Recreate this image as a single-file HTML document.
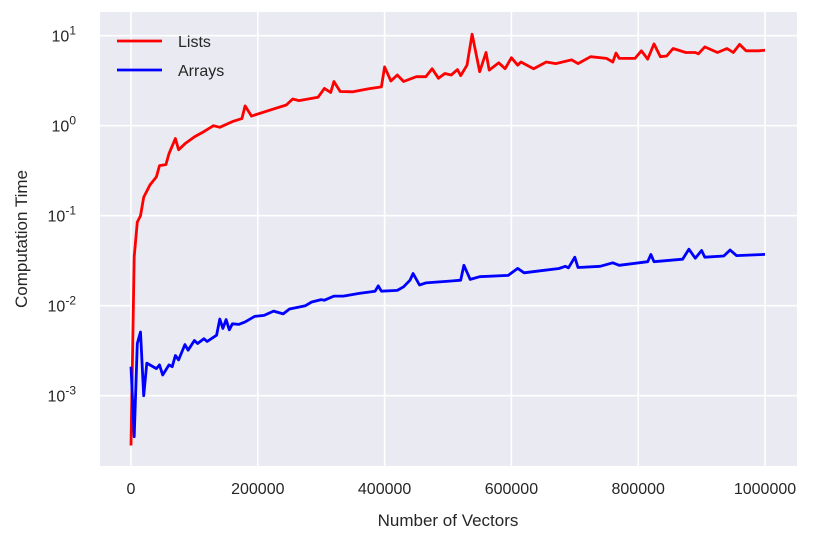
<!DOCTYPE html>
<html><head><meta charset="utf-8"><style>
html,body{margin:0;padding:0;background:#fff;}
svg{display:block;font-family:"Liberation Sans","DejaVu Sans",sans-serif;}
</style></head><body>
<svg id="chart" width="821" height="544" viewBox="0 0 821 544">
<rect x="100" y="12" width="697" height="454" fill="#EAEAF2"/>
<g id="grid"></g>
<g id="series"></g>
<g id="ticks"></g>
<text x="448" y="526" font-size="17" fill="#262626" text-anchor="middle">Number of Vectors</text>
<text transform="translate(27,239) rotate(-90)" font-size="17" fill="#262626" text-anchor="middle">Computation Time</text>
<g>
<g><line x1="117" y1="41" x2="162" y2="41" stroke="#ff0000" stroke-width="2.8"/><text x="178" y="47" font-size="16" fill="#262626">Lists</text></g>
<g><line x1="117" y1="70" x2="162" y2="70" stroke="#0000ff" stroke-width="2.8"/><text x="178" y="76" font-size="16" fill="#262626">Arrays</text></g>
</g>
</svg>
<script>
const listsX = [0,5,10,15,20,30,40,45,55,60,70,75,85,100,115,130,140,160,175,180,190,220,245,255,265,295,305,315,320,330,350,375,395,400,410,420,430,450,465,475,485,495,505,515,520,530,538,550,560,565,580,590,600,610,615,635,655,670,695,705,725,750,760,765,770,795,805,815,825,835,845,855,875,890,895,905,925,940,950,960,970,990,1000];
const listsY = [0.00028,0.035,0.085,0.1,0.16,0.22,0.27,0.36,0.37,0.49,0.72,0.54,0.63,0.75,0.86,1.0,0.96,1.11,1.2,1.66,1.28,1.5,1.7,1.98,1.9,2.07,2.6,2.34,3.1,2.4,2.38,2.57,2.7,4.5,3.14,3.66,3.1,3.5,3.5,4.3,3.36,3.8,3.66,4.2,3.6,4.7,10.4,3.98,6.5,4.15,5.0,4.3,5.7,4.7,5.1,4.3,5.1,4.9,5.4,4.9,5.85,5.6,5.1,6.4,5.6,5.6,6.8,5.5,8.1,5.85,5.95,7.2,6.5,6.5,6.3,7.5,6.5,7.2,6.5,8.0,6.8,6.8,6.9];
const arraysX = [0,5,10,15,20,25,40,45,50,60,65,70,75,85,90,100,105,115,120,135,140,145,150,155,160,170,180,195,210,225,240,250,275,285,300,305,320,335,360,385,390,395,420,430,440,445,455,465,505,520,525,535,550,595,610,620,645,675,685,690,700,705,740,760,770,815,820,825,870,880,890,900,905,935,945,955,1000];
const arraysY = [0.0021,0.00035,0.0038,0.0051,0.001,0.0023,0.002,0.0022,0.0017,0.0022,0.0021,0.0028,0.0025,0.0037,0.0032,0.0041,0.0038,0.0043,0.004,0.0047,0.0071,0.0056,0.007,0.0054,0.0063,0.0062,0.0066,0.0076,0.0078,0.0087,0.0081,0.0092,0.01,0.011,0.0117,0.0115,0.0128,0.0128,0.0137,0.0145,0.0166,0.0145,0.0148,0.0162,0.0192,0.0228,0.017,0.0179,0.0188,0.0192,0.0281,0.0196,0.021,0.0217,0.026,0.0232,0.0244,0.0259,0.0274,0.0264,0.0346,0.0266,0.0274,0.03,0.0281,0.0308,0.0371,0.0308,0.0329,0.0424,0.0337,0.041,0.0346,0.0357,0.0416,0.036,0.0372];
const xTicks = [0,200000,400000,600000,800000,1000000];
const yTickExps = [-3,-2,-1,0,1];

const NS = "http://www.w3.org/2000/svg";
function xScale(v){ return 131 + v/1e6*634; }
function yScale(v){ return 35.7 - (Math.log10(v) - 1)*90; }
function mk(tag, attrs, parent){ const e=document.createElementNS(NS,tag); for(const k in attrs) e.setAttribute(k,attrs[k]); parent.appendChild(e); return e; }

const grid=document.getElementById('grid'), ticks=document.getElementById('ticks'), series=document.getElementById('series');
xTicks.forEach(t=>{
  const x=xScale(t);
  const g=mk('line',{x1:x,x2:x,y1:12,y2:466,stroke:'#fff','stroke-width':1.6},grid);
  
  
  const l=mk('text',{x:x,y:494,'font-size':16,fill:'#262626','text-anchor':'middle'},ticks);
  l.textContent=String(t);
  
  
});
yTickExps.forEach(e=>{
  const y=yScale(Math.pow(10,e));
  const g=mk('line',{x1:100,x2:797,y1:y,y2:y,stroke:'#fff','stroke-width':1.6},grid);
  
  
  const l=mk('text',{x:76,y:y+6,'font-size':16,fill:'#262626','text-anchor':'end'},ticks);
  
  
  const b=mk('tspan',{},l); b.textContent='10';
  const s=mk('tspan',{dy:-7,'font-size':12},l); s.textContent=String(e);
});
function draw(xs,ys,color,name){
  const d=xs.map((x,i)=>(i?'L':'M')+xScale(x*1000).toFixed(1)+','+yScale(ys[i]).toFixed(1)).join(' ');
  const p=mk('path',{d:d,fill:'none',stroke:color,'stroke-width':2.8,'stroke-linejoin':'round'},series);
  
  
}
draw(listsX,listsY,'#ff0000','lists-line');
draw(arraysX,arraysY,'#0000ff','arrays-line');
</script>
</body></html>
